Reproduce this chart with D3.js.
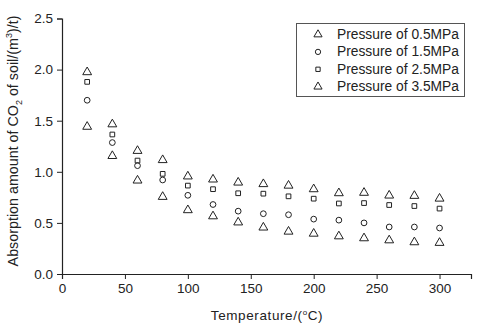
<!DOCTYPE html>
<html><head><meta charset="utf-8">
<script src="https://cdn.jsdelivr.net/npm/d3@7/dist/d3.min.js"></script>
<style>body{margin:0;background:#fff}svg{display:block;font-family:"Liberation Sans",Arial,sans-serif}</style>
</head><body><svg id="c" width="480" height="328"></svg>
<script>
const temps = [20,40,60,80,100,120,140,160,180,200,220,240,260,280,300];
const p05 = [1.446,1.16,0.92,0.76,0.63,0.57,0.51,0.46,0.42,0.40,0.374,0.355,0.335,0.316,0.31];
const p15 = [1.70,1.286,1.06,0.92,0.77,0.68,0.615,0.59,0.58,0.537,0.527,0.50,0.46,0.46,0.45];
const p25 = [1.88,1.365,1.11,0.98,0.865,0.83,0.79,0.786,0.76,0.737,0.69,0.694,0.675,0.665,0.64];
const p35 = [1.98,1.47,1.21,1.12,0.96,0.93,0.90,0.885,0.87,0.835,0.796,0.80,0.773,0.77,0.743];
const seriesNames = ["Pressure of 0.5MPa","Pressure of 1.5MPa","Pressure of 2.5MPa","Pressure of 3.5MPa"];
const seriesSymbols = ["triangle","circle","square","triangle"];
const xTicks = [0,50,100,150,200,250,300];
const yTicks = [0.0,0.5,1.0,1.5,2.0,2.5];

const svg = d3.select("#c");
const x = d3.scaleLinear().domain([0,325]).range([62,471]);
const y = d3.scaleLinear().domain([0,2.5]).range([274,18.5]);
const col = "#222";

// minor ticks
const gx = svg.append("g").attr("transform","translate(0,274)");
gx.call(d3.axisBottom(x).tickValues(d3.range(25,325,50)).tickSize(3).tickFormat(""));
gx.call(d3.axisBottom(x).tickValues(xTicks).tickSize(5).tickPadding(4).tickFormat(d3.format("d")));
const gy = svg.append("g").attr("transform","translate(62,0)");
gy.call(d3.axisLeft(y).tickValues([0.25,0.75,1.25,1.75,2.25]).tickSize(3).tickFormat(""));
gy.call(d3.axisLeft(y).tickValues(yTicks).tickSize(5).tickPadding(4).tickFormat(d3.format(".1f")));
svg.selectAll(".domain").attr("stroke",col).attr("stroke-width",1.2);
svg.selectAll(".tick line").attr("stroke",col);
svg.selectAll(".tick text").attr("fill",col).style("font-size","13.5px").style("font-family","Liberation Sans, Arial, sans-serif");

// axis titles
svg.append("text").attr("x",267).attr("y",320).attr("text-anchor","middle")
  .attr("fill",col).style("font-size","13.5px").style("letter-spacing","0.6px")
  .html('Temperature/(<tspan dy="-5" font-size="8">o</tspan><tspan dy="5">C)</tspan>');
svg.append("text").attr("transform","translate(18,141) rotate(-90)").attr("text-anchor","middle")
  .attr("fill",col).style("font-size","14.3px")
  .html('Absorption amount of CO<tspan dy="4" font-size="9">2</tspan><tspan dy="-4"> of soil/(m</tspan><tspan dy="-6" font-size="9">3</tspan><tspan dy="6">)/t)</tspan>');

// points
const data = [p05,p15,p25,p35];
const symType = {triangle:d3.symbolTriangle, circle:d3.symbolCircle, square:d3.symbolSquare};
const symSize = {triangle:34, circle:26, square:22};
data.forEach((vals,i)=>{
  const s = seriesSymbols[i];
  const sym = d3.symbol().type(symType[s]).size(symSize[s]);
  svg.append("g").selectAll("path").data(vals).join("path")
    .attr("d",sym)
    .attr("transform",(d,j)=>`translate(${x(temps[j])},${y(d)+(s==="triangle"?0.5:0)})`)
    .attr("fill","none").attr("stroke",col).attr("stroke-width",1);
});

// legend
const lg = svg.append("g");
lg.append("rect").attr("x",296.5).attr("y",23.5).attr("width",168).attr("height",73)
  .attr("fill","#fff").attr("stroke","#555").attr("stroke-width",1);
seriesNames.forEach((n,i)=>{
  const yy = 34.5 + i*17.4;
  const s = seriesSymbols[i];
  lg.append("path").attr("d",d3.symbol().type(symType[s]).size(symSize[s]*0.85)())
    .attr("transform",`translate(318,${yy})`).attr("fill","none").attr("stroke",col);
  lg.append("text").attr("x",337).attr("y",yy+4.5).attr("fill",col)
    .style("font-size","13.8px").text(n);
});
</script></body></html>
